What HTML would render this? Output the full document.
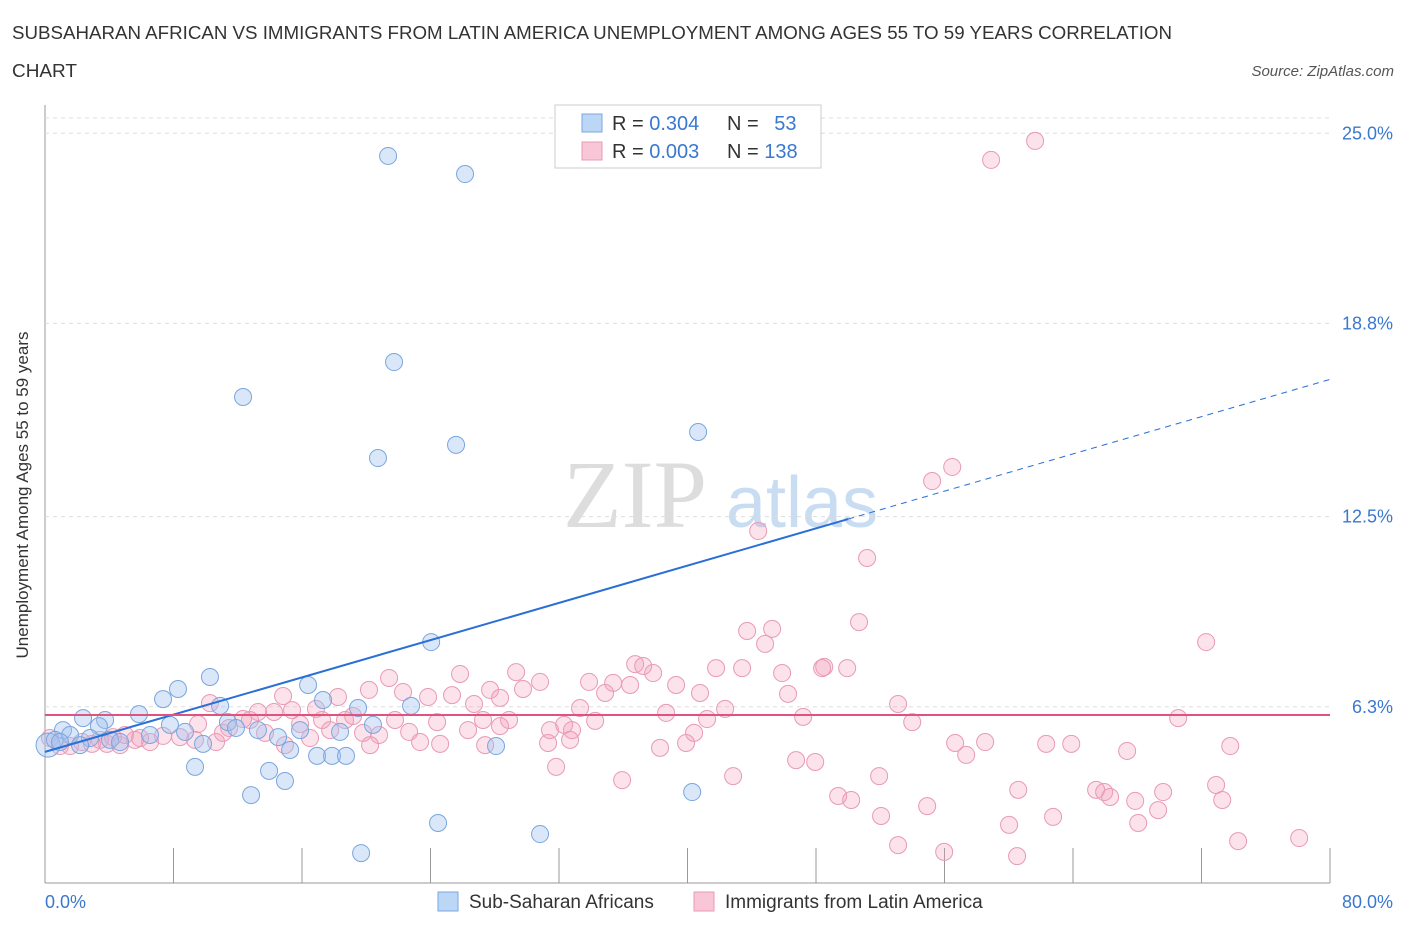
<!DOCTYPE html>
<html><head><meta charset="utf-8"><style>
body{margin:0;background:#fff;font-family:"Liberation Sans",sans-serif;}
svg{display:block}
</style></head><body>
<svg id="chart" width="1406" height="930">
<text x="12" y="39" font-size="18" fill="#333" textLength="1160" lengthAdjust="spacingAndGlyphs">SUBSAHARAN AFRICAN VS IMMIGRANTS FROM LATIN AMERICA UNEMPLOYMENT AMONG AGES 55 TO 59 YEARS CORRELATION</text>
<text x="12" y="77" font-size="18" fill="#333" textLength="65" lengthAdjust="spacingAndGlyphs">CHART</text>
<text x="1394" y="76" font-size="15" fill="#555" font-style="italic" text-anchor="end">Source: ZipAtlas.com</text>
<text x="635" y="527" font-size="96" fill="#ddd" font-family="Liberation Serif,serif" text-anchor="middle">ZIP</text>
<text x="802" y="527" font-size="72" fill="#c8dcf2" text-anchor="middle">atlas</text>
<g id="grid"></g><g id="pts"></g><g id="trend"></g>
<text x="28" y="495" font-size="17" fill="#333" text-anchor="middle" transform="rotate(-90 28 495)">Unemployment Among Ages 55 to 59 years</text>
<text x="45" y="908" font-size="18" fill="#3a78d0">0.0%</text>
<text x="1393" y="908" font-size="18" fill="#3a78d0" text-anchor="end">80.0%</text>
<g>
<rect x="555" y="105" width="266" height="63" fill="#fff" stroke="#ccc"/>
<rect x="582" y="114" width="20" height="18" fill="#bcd6f5" stroke="#7aa6de"/>
<rect x="582" y="142" width="20" height="18" fill="#f8c6d6" stroke="#e89ab4"/>
<text x="612" y="130" font-size="20" fill="#333">R = <tspan fill="#3a78d0">0.304</tspan></text>
<text x="727" y="130" font-size="20" fill="#333">N = <tspan fill="#3a78d0" dx="10">53</tspan></text>
<text x="612" y="158" font-size="20" fill="#333">R = <tspan fill="#3a78d0">0.003</tspan></text>
<text x="727" y="158" font-size="20" fill="#333">N = <tspan fill="#3a78d0">138</tspan></text>
</g>
<g>
<rect x="438" y="892" width="20" height="19" fill="#bcd6f5" stroke="#7aa6de"/>
<text x="469" y="908" font-size="19" fill="#333">Sub-Saharan Africans</text>
<rect x="694" y="892" width="20" height="19" fill="#f8c6d6" stroke="#e89ab4"/>
<text x="725" y="908" font-size="19" fill="#333">Immigrants from Latin America</text>
</g>
</svg>
<script>
const yTicks=[6.3,12.5,18.8,25.0];
const yTickLabels=["6.3%","12.5%","18.8%","25.0%"];
const xTicks=[0,8,16,24,32,40,48,56,64,72,80];
const blueX=[21.36,26.15,21.73,12.33,20.73,25.59,40.66,24.04,10.27,8.28,7.35,16.38,10.9,5.85,3.74,2.37,3.36,1.12,0.19,0.62,1.56,2.8,4.05,4.67,6.54,7.78,8.72,9.84,11.39,11.89,13.26,14.51,15.26,15.88,17.31,19.49,20.42,22.79,18.37,16.94,17.87,18.74,9.34,13.95,14.94,12.83,28.08,40.29,24.47,30.82,19.68,0.93,2.18];
const blueY=[24.26,23.67,17.54,16.4,14.41,14.84,15.26,8.41,7.27,6.88,6.55,7.01,6.33,6.06,5.87,5.93,5.67,5.54,5.05,5.22,5.38,5.28,5.22,5.15,5.38,5.71,5.48,5.09,5.8,5.61,5.54,5.31,4.89,5.54,6.52,6.26,5.71,6.33,5.48,4.7,4.7,4.7,4.34,4.21,3.88,3.42,5.02,3.52,2.51,2.15,1.53,5.15,5.05];
const pinkX=[61.64,58.9,56.48,55.23,44.4,51.18,50.68,43.71,45.27,72.29,44.83,36.74,37.24,37.86,41.78,43.4,45.89,48.51,49.94,48.38,25.84,29.33,30.82,29.76,33.87,35.37,36.43,39.29,40.78,21.42,22.29,20.17,18.24,14.82,10.27,27.71,26.71,23.85,25.34,28.33,34.87,46.26,53.11,16.87,19.18,13.26,14.26,15.38,12.33,9.53,11.46,9.34,8.41,7.35,6.54,5.6,4.67,4.23,3.42,2.93,2.3,1.56,0.93,0.31,3.86,4.98,5.92,10.65,11.08,13.7,15.88,17.25,18.68,19.8,20.8,22.67,23.35,24.41,26.34,27.27,28.89,31.32,32.32,32.81,33.31,34.25,38.67,41.22,42.34,47.2,53.99,70.55,38.29,39.91,40.41,42.84,46.76,47.95,51.93,49.38,50.19,52.05,54.92,56.66,57.35,58.53,60.59,62.33,63.89,67.37,65.44,65.94,66.31,67.87,69.61,69.3,72.91,73.29,73.79,60.02,62.76,68.06,53.11,55.98,60.52,74.28,78.08,31.82,35.93,31.44,17.75,12.76,14.94,16.5,21.79,24.6,28.33,32.69,20.24,27.4];
const pinkY=[24.75,24.13,14.12,13.66,12.03,11.15,9.06,8.77,8.84,8.41,8.35,7.69,7.63,7.4,7.56,7.56,7.4,7.6,7.56,7.56,7.37,7.43,7.11,6.88,7.11,7.08,7.01,7.01,6.75,7.24,6.78,6.85,6.62,6.65,6.42,6.85,6.39,6.62,6.68,6.59,6.75,6.72,6.39,6.23,6.0,6.13,6.13,6.19,5.9,5.74,5.61,5.22,5.31,5.35,5.15,5.22,5.05,5.31,5.22,5.09,5.15,5.02,5.02,5.28,5.09,5.38,5.28,5.15,5.45,5.45,5.74,5.87,5.87,5.45,5.38,5.48,5.15,5.8,5.54,5.87,5.87,5.12,5.71,5.54,6.26,5.84,6.1,5.9,6.23,5.97,5.8,5.93,4.96,5.12,5.45,4.04,4.56,4.5,4.04,3.39,3.26,2.74,3.06,5.12,4.73,5.15,3.59,5.09,5.09,4.86,3.59,3.52,3.36,3.23,3.52,2.93,3.75,3.26,5.02,2.45,2.71,2.51,1.79,1.57,1.43,1.92,2.02,4.34,3.91,5.54,5.54,5.87,5.05,5.28,5.87,5.09,5.67,5.22,5.05,5.05];
const blueTrend=[4.83,0.1518];
const pinkTrend=[6.03,0];
const NS='http://www.w3.org/2000/svg';
const xs=v=>45+v*1285/80;
const ys=v=>900-v*30.67;
function mk(t,a,p){const e=document.createElementNS(NS,t);for(const k in a)e.setAttribute(k,a[k]);p.appendChild(e);return e;}
const grid=document.getElementById('grid'),pts=document.getElementById('pts'),tr=document.getElementById('trend');
mk('line',{x1:45,y1:105,x2:45,y2:883,stroke:'#999','stroke-width':1},grid);
mk('line',{x1:45,y1:883,x2:1330,y2:883,stroke:'#999','stroke-width':1},grid);
mk('line',{x1:45,y1:118,x2:1330,y2:118,stroke:'#ddd','stroke-dasharray':'4,4'},grid);
yTicks.forEach((v,i)=>{
 const l=mk('line',{x1:45,y1:ys(v),x2:1330,y2:ys(v),stroke:'#ddd','stroke-dasharray':'4,4'},grid);
 
 
 const t=mk('text',{x:1393,y:ys(v)+6,'font-size':18,fill:'#3a78d0','text-anchor':'end'},grid);
 t.textContent=yTickLabels[i];
 
 
});
xTicks.forEach(v=>{
 const l=mk('line',{x1:xs(v),y1:848,x2:xs(v),y2:883,stroke:'#999'},grid);
 
 
});
pinkX.forEach((x,i)=>{
 const c=mk('circle',{cx:xs(x),cy:ys(pinkY[i]),r:8.5,fill:'rgba(242,160,188,0.3)',stroke:'#e89ab4','stroke-width':1},pts);
 
 
});
blueX.forEach((x,i)=>{
 const c=mk('circle',{cx:xs(x),cy:ys(blueY[i]),r:i==18?12:8.5,fill:'rgba(160,196,240,0.4)',stroke:'#7aa6de','stroke-width':1},pts);
 
 
});
const bl=mk('line',{x1:xs(0),y1:ys(blueTrend[0]),x2:xs(50),y2:ys(blueTrend[0]+50*blueTrend[1]),stroke:'#2a6fd6','stroke-width':2},tr);


const bd=mk('line',{x1:xs(50),y1:ys(blueTrend[0]+50*blueTrend[1]),x2:xs(80),y2:ys(blueTrend[0]+80*blueTrend[1]),stroke:'#2a6fd6','stroke-width':1,'stroke-dasharray':'6,5'},tr);


const pl=mk('line',{x1:xs(0),y1:ys(pinkTrend[0]),x2:xs(80),y2:ys(pinkTrend[0]+80*pinkTrend[1]),stroke:'#e0537e','stroke-width':2},tr);


</script>
</body></html>
